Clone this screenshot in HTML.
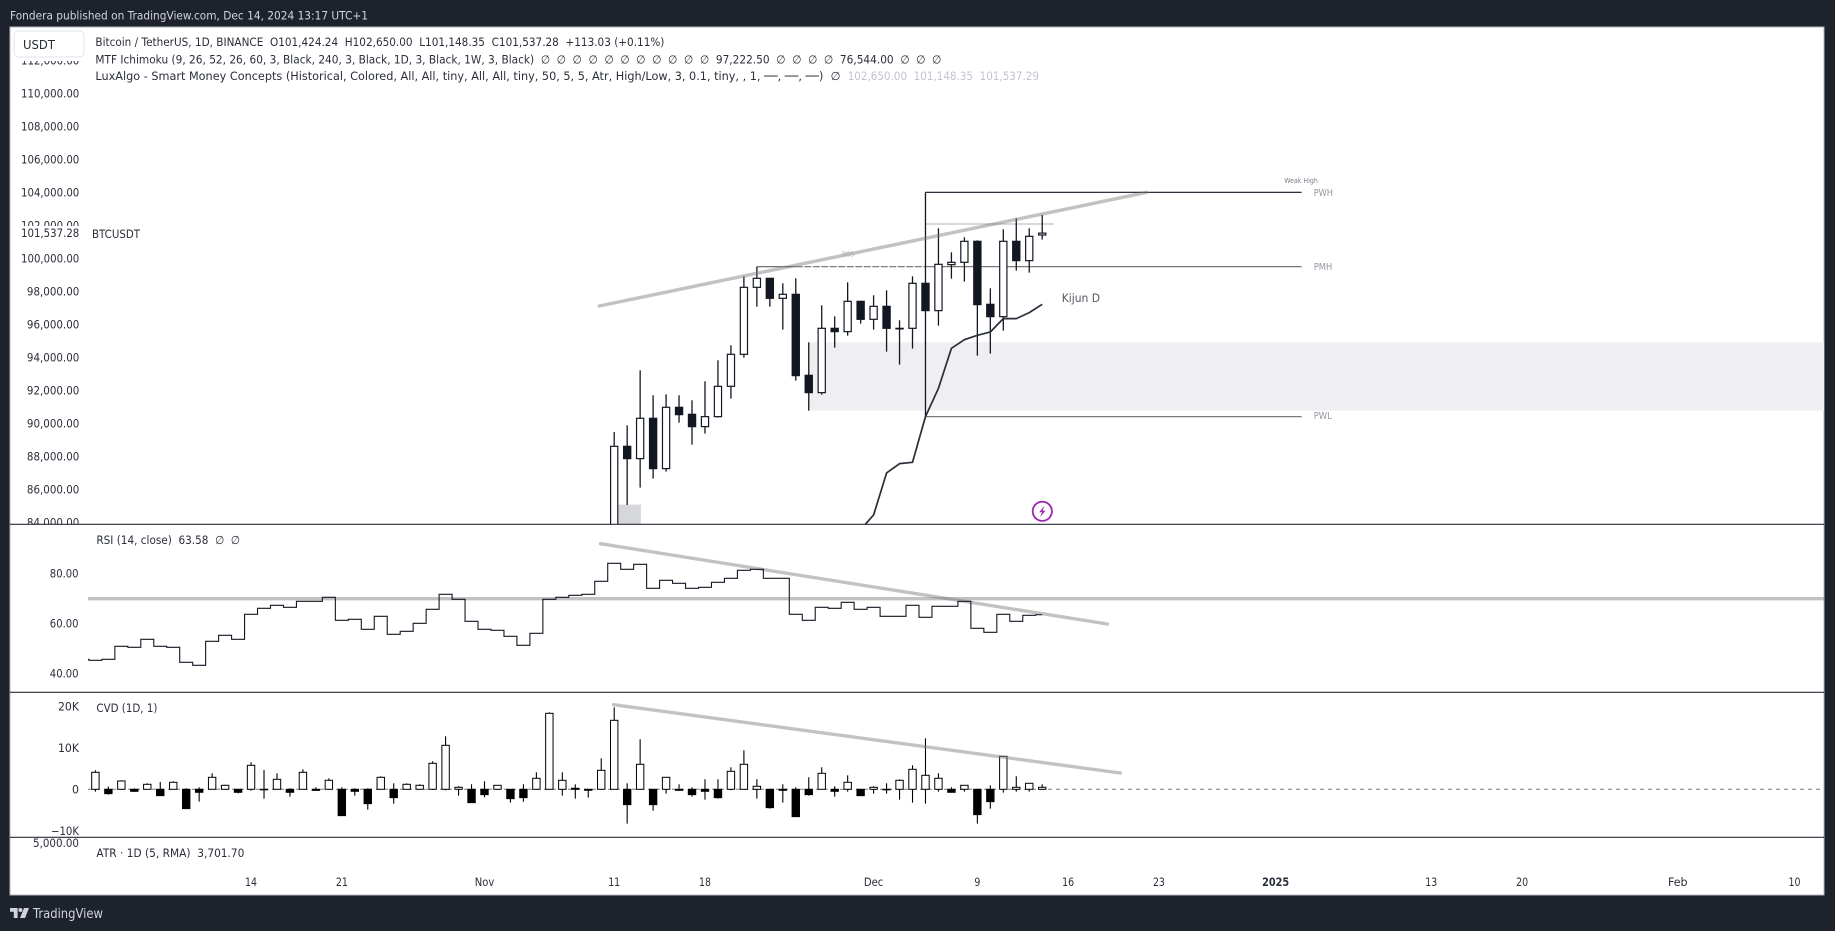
<!DOCTYPE html>
<html lang="en">
<head>
<meta charset="utf-8">
<title>BTCUSDT chart</title>
<style>
html,body{margin:0;padding:0;background:#1e222d;width:1835px;height:931px;overflow:hidden}
svg{display:block}
text{font-family:"DejaVu Sans","Liberation Sans",sans-serif;white-space:pre}
.lg{font-size:11.5px;fill:#2a2e39}
.ax{font-size:11.5px;fill:#2a2e39}
</style>
</head>
<body>
<svg id="chart" xmlns="http://www.w3.org/2000/svg" width="1835" height="931" viewBox="0 0 1835 931">
  <defs>
    <clipPath id="clip-main"><rect x="88" y="27" width="1736" height="497"/></clipPath>
    <clipPath id="clip-rsi"><rect x="88" y="525" width="1736" height="167"/></clipPath>
    <clipPath id="clip-cvd"><rect x="88" y="693" width="1736" height="144"/></clipPath>
    <clipPath id="clip-price-labels"><rect x="12" y="61" width="76" height="463"/></clipPath>
    <clipPath id="clip-atr-label"><rect x="12" y="838" width="76" height="20"/></clipPath>
  </defs>
  <rect x="0" y="0" width="1835" height="931" fill="#1e222d"/>
  <text x="10" y="19.5" font-size="11.5" fill="#d1d4dc" textLength="358" lengthAdjust="spacingAndGlyphs">Fondera published on TradingView.com, Dec 14, 2024 13:17 UTC+1</text>
  <rect x="10" y="27" width="1814" height="868" fill="#ffffff" stroke="#b2b5be" stroke-width="1"/>

  <g id="main-layer" clip-path="url(#clip-main)"></g>
  <g id="price-labels" clip-path="url(#clip-price-labels)"></g>
  <rect x="12" y="226" width="74" height="14" fill="#ffffff"/>
  <text class="ax" x="79.3" y="237" text-anchor="end" fill="#131722" textLength="58.3" lengthAdjust="spacingAndGlyphs">101,537.28</text>
  <text class="ax" x="92" y="238" textLength="48" lengthAdjust="spacingAndGlyphs">BTCUSDT</text>

  <g id="rsi-layer" clip-path="url(#clip-rsi)"></g>
  <g id="rsi-labels"></g>
  <g id="cvd-layer" clip-path="url(#clip-cvd)"></g>
  <g id="cvd-labels"></g>
  <g id="time-labels"></g>

  <line x1="10" x2="1824" y1="524.3" y2="524.3" stroke="#2a2e39" stroke-width="1.2"/>
  <line x1="10" x2="1824" y1="692.3" y2="692.3" stroke="#2a2e39" stroke-width="1.2"/>
  <line x1="10" x2="1824" y1="837.3" y2="837.3" stroke="#2a2e39" stroke-width="1.2"/>

  <rect x="14" y="31" width="70" height="26" rx="4" fill="#ffffff" stroke="#e0e3eb"/>
  <text x="23" y="49" font-size="12.5" fill="#2a2e39" textLength="32" lengthAdjust="spacingAndGlyphs">USDT</text>

  <text class="lg" x="95.4" y="46" textLength="569" lengthAdjust="spacingAndGlyphs">Bitcoin / TetherUS, 1D, BINANCE  O101,424.24  H102,650.00  L101,148.35  C101,537.28  +113.03 (+0.11%)</text>
  <text class="lg" x="95.4" y="63.3" textLength="846" lengthAdjust="spacingAndGlyphs">MTF Ichimoku (9, 26, 52, 26, 60, 3, Black, 240, 3, Black, 1D, 3, Black, 1W, 3, Black)  ∅  ∅  ∅  ∅  ∅  ∅  ∅  ∅  ∅  ∅  ∅  97,222.50  ∅  ∅  ∅  ∅  76,544.00  ∅  ∅  ∅</text>
  <text class="lg" x="95.4" y="80" textLength="745" lengthAdjust="spacingAndGlyphs">LuxAlgo - Smart Money Concepts (Historical, Colored, All, All, tiny, All, All, tiny, 50, 5, 5, Atr, High/Low, 3, 0.1, tiny, , 1, ──, ──, ──)  ∅</text>
  <text class="lg" x="847.7" y="80" style="fill:#c1c4cd" textLength="191.3" lengthAdjust="spacingAndGlyphs">102,650.00  101,148.35  101,537.29</text>
  <text class="lg" x="96.4" y="544" textLength="143.6" lengthAdjust="spacingAndGlyphs">RSI (14, close)  63.58  ∅  ∅</text>
  <text class="lg" x="96.4" y="712" textLength="61" lengthAdjust="spacingAndGlyphs">CVD (1D, 1)</text>
  <text class="lg" x="96.4" y="857" textLength="148" lengthAdjust="spacingAndGlyphs">ATR · 1D (5, RMA)  3,701.70</text>
  <text class="ax" x="79" y="847" text-anchor="end" clip-path="url(#clip-atr-label)" textLength="46" lengthAdjust="spacingAndGlyphs">5,000.00</text>

  <g>
    <circle cx="1042.3" cy="511.3" r="9.6" fill="#ffffff" stroke="#9c27b0" stroke-width="1.8"/>
    <path d="M1044.6 505.6l-5.4 6.6h2.9l-2 5 5.4-6.6h-2.9z" fill="#9c27b0"/>
  </g>

  <g>
    <path d="M10 908h7.6v10h-3.8v-6.2H10z" fill="#d1d4dc"/>
    <circle cx="20.4" cy="910" r="2" fill="#d1d4dc"/>
    <path d="M24 908h5l-4 10h-5z" fill="#d1d4dc"/>
    <text x="33" y="918" font-size="13" fill="#d1d4dc" textLength="70" lengthAdjust="spacingAndGlyphs">TradingView</text>
  </g>
</svg>

<script>
// ---- Price pane data ----
const priceTicks = [112000,110000,108000,106000,104000,102000,100000,98000,96000,94000,92000,90000,88000,86000,84000];
const candleFirstDay = 40;
const candleOpen  = [80370,88618,87871,90315,87265,90982,90557,89810,90416,92254,94193,98254,98799,97587,97829,92921,91870,95769,95567,97405,96314,97102,95769,95769,98496,96840,99627,99769,101041,97223,96476,101041,99870,101424];
const candleHigh  = [89487,89891,93224,91709,91769,91709,91406,92557,93830,94739,98920,99506,98799,98496,98799,94921,97163,96496,98557,97405,97769,98072,96254,98920,104010,101829,100375,101284,101102,98193,101768,102435,101829,102650];
const candleLow   = [80216,85063,86113,86659,87083,90052,88719,89386,90355,91507,93991,97082,97082,95688,92598,90780,91749,94597,95325,96052,95688,94355,93567,94537,90416,95931,98779,98597,94113,94234,95628,99264,99143,101148];
const candleClose = [88618,87871,90315,87265,90982,90537,89810,90416,92254,94193,98254,98799,97587,97829,92901,91870,95769,95567,97405,96314,97102,95769,95749,98496,96840,99647,99769,101041,97203,96476,101041,99870,101344,101537];
const kijunFirstDay = 59;
const kijunValues = [83568,84457,87002,87568,87649,90416,92133,94557,95082,95345,95547,96355,96355,96718,97222];
const mainTrendDays = [38.85,81.06];
const mainTrendPrices = [97121,104012];
const pwhPrice = 104010;
const pmhPrice = 99506;
const pwlPrice = 90416;
const weakHighLevel = 102092;
const levelStartDay = 64;
const levelEndDay = 93;
const zoneTop = 94921;
const zoneBottom = 90780;
const zoneStartDay = 55;
const obTop = 85063;
const obDays = [40.35,42.04];
const bosStartDay = 51;
const bosSolidEndDay = 54;

// ---- RSI data (first entry is the day before the left edge) ----
const rsiTicks = [80,60,40];
const rsiValues = [45.76,45.36,45.76,50.96,50.56,53.76,50.96,50.56,44.56,43.36,52.96,55.36,53.76,63.76,66.16,67.36,66.56,68.96,68.96,70.56,61.36,61.76,57.76,62.96,55.76,56.96,60.16,65.76,71.76,69.76,60.96,57.76,57.36,54.96,51.36,56.16,69.76,70.56,71.36,71.76,76.96,84.15,81.75,83.75,74.15,77.35,76.15,74.15,74.55,76.55,78.15,81.35,81.75,78.15,78.15,63.76,61.36,66.56,66.16,68.56,65.76,66.56,62.96,62.96,67.35,62.56,66.95,66.95,68.95,58.15,56.55,63.75,60.95,63.35,63.58];
const rsiLevel = 70;
const rsiTrendDays = [38.94,78.03];
const rsiTrendValues = [92,59.88];

// ---- CVD data ----
const cvdTicks = [20000,10000,0,-10000];
const cvdTickLabels = ["20K","10K","0","\u221210K"];
const cvdClose = [4095,-1044,2008,-482,1205,-1526,1686,-4657,-723,2891,964,-723,5782,0,2409,-723,4095,-260,2168,-6344,-482,-3453,2891,-2008,1205,964,6263,10600,482,-3212,-1285,964,-2248,-2008,2650,18308,2168,241,-241,4577,16622,-3694,6023,-3694,2891,-241,-1285,-482,-2008,4336,6023,723,-4417,-241,-6585,-1285,3854,-482,1686,-1526,482,0,2168,4818,3373,2650,-723,964,-6103,-2971,7950,482,1445,482];
const cvdHigh = [4577,642,2168,241,1445,1767,1927,241,482,3854,1124,80,6504,4657,3854,241,4818,482,2650,482,241,241,3132,1445,1445,1205,6745,12768,723,1205,1927,964,0,1205,4095,18549,4095,1205,0,7468,19754,1445,12045,0,2891,1205,482,2409,2409,5300,9395,2409,0,1205,482,2891,5300,723,3373,0,723,1445,2409,5782,12286,3854,482,964,0,964,7950,3132,1445,1205];
const cvdLow = [-562,-1285,0,-642,0,-1526,0,-4657,-2971,0,0,-964,-321,-2248,0,-1767,0,-300,0,-6344,-1526,-4898,0,-3453,0,0,-161,-241,-1526,-3212,-1927,0,-3212,-2971,0,0,-1526,-2248,-2008,0,0,-8271,0,-5139,-1044,-402,-1767,-2489,-2248,-241,0,-2248,-4657,-3212,-6585,-1526,0,-1767,-562,-1526,-1044,-1044,-2489,-3212,-3453,-562,-723,-562,-8271,-4657,-803,-562,-562,0];
const cvdTrendDays = [39.95,79.02];
const cvdTrendValues = [20386,3928];

// ---- Time axis data ----
const timeTickDays = [12,19,30,40,47,60,68,75,82,91,103,110,122,131];
const timeTickLabels = ["14","21","Nov","11","18","Dec","9","16","23","2025","13","20","Feb","10"];

// ---- Axis functions ----
function xOf(day){ return 95.4 + 12.97 * day; }
function yPrice(p){ return 192.5 + (104000 - p) * 0.0165; }
function yRsi(v){ return 623.7 - (v - 60) * 2.5; }
function yCvd(v){ return 789.3 - v * 0.00415; }

const NS = "http://www.w3.org/2000/svg";
function make(tag, props, parent){
  const node = document.createElementNS(NS, tag);
  for (const k in props) node.setAttribute(k, props[k]);
  parent.appendChild(node);
  return node;
}
const mainLayer = document.getElementById("main-layer");
const rsiLayer = document.getElementById("rsi-layer");
const cvdLayer = document.getElementById("cvd-layer");
const priceLabels = document.getElementById("price-labels");
const rsiLabels = document.getElementById("rsi-labels");
const cvdLabels = document.getElementById("cvd-labels");
const timeLabels = document.getElementById("time-labels");
const DARK = "#131722";
const RIGHT = 1824;
const TREND = {stroke:"#787878","stroke-opacity":"0.45","stroke-width":"3.4","stroke-linecap":"round"};

// ---- Price pane ----
priceTicks.forEach(function(p){
  const t = make("text",{class:"ax",x:79.3,y:yPrice(p)+4,"text-anchor":"end",textLength:(p>=100000?58.3:52.4),lengthAdjust:"spacingAndGlyphs"},priceLabels);
  
  
  t.textContent = p.toLocaleString("en-US",{minimumFractionDigits:2,maximumFractionDigits:2});
});

const zone = make("rect",{x:xOf(zoneStartDay),y:yPrice(zoneTop),width:RIGHT-xOf(zoneStartDay),height:yPrice(zoneBottom)-yPrice(zoneTop),fill:"#efeff1"},mainLayer);



const orderBlock = make("rect",{x:xOf(obDays[0]),y:yPrice(obTop),width:xOf(obDays[1])-xOf(obDays[0]),height:530-yPrice(obTop),fill:"#d6d7db",stroke:"#dcdde1","stroke-width":"0.8"},mainLayer);



const weakHigh = make("line",{x1:xOf(levelStartDay),x2:xOf(73.9),y1:yPrice(weakHighLevel),y2:yPrice(weakHighLevel),stroke:"#d1d4dc","stroke-width":"1.8"},mainLayer);



const bosSolid = make("line",{x1:xOf(bosStartDay),x2:xOf(bosSolidEndDay),y1:yPrice(pmhPrice),y2:yPrice(pmhPrice),stroke:"#5d6068","stroke-width":"1.1"},mainLayer);



const bosLine = make("line",{x1:xOf(bosSolidEndDay),x2:xOf(levelStartDay),y1:yPrice(pmhPrice),y2:yPrice(pmhPrice),stroke:"#6f7178","stroke-width":"1.1","stroke-dasharray":"7 1.5"},mainLayer);



const pwhLine = make("line",{x1:xOf(levelStartDay),x2:xOf(levelEndDay),y1:yPrice(pwhPrice),y2:yPrice(pwhPrice),stroke:DARK,"stroke-width":"1.2"},mainLayer);



const pmhLine = make("line",{x1:xOf(levelStartDay),x2:xOf(levelEndDay),y1:yPrice(pmhPrice),y2:yPrice(pmhPrice),stroke:"#787878","stroke-width":"1.2"},mainLayer);



const pwlLine = make("line",{x1:xOf(levelStartDay),x2:xOf(levelEndDay),y1:yPrice(pwlPrice),y2:yPrice(pwlPrice),stroke:"#787878","stroke-width":"1.2"},mainLayer);



candleClose.forEach(function(c,i){
  const cx = xOf(candleFirstDay+i);
  const o = candleOpen[i];
  const up = c >= o;
  const g = make("g",{},mainLayer);
  
  
  make("line",{x1:cx,x2:cx,y1:yPrice(candleHigh[i]),y2:yPrice(candleLow[i]),stroke:DARK,"stroke-width":"1.3"},g);
  const top = yPrice(Math.max(o,c));
  const h = Math.max(Math.abs(yPrice(o)-yPrice(c)),0.6);
  make("rect",{x:cx-3.6,y:top,width:7.2,height:h,fill:up?"#ffffff":DARK,stroke:DARK,"stroke-width":"1.2"},g);
});

const kijunPts = kijunValues.map(function(v,i){ return xOf(kijunFirstDay+i)+","+yPrice(v); }).join(" ");
const kijun = make("polyline",{points:kijunPts,fill:"none",stroke:"#2a2e39","stroke-width":"1.7","stroke-linejoin":"round"},mainLayer);



const mainTrend = make("line",Object.assign({x1:xOf(mainTrendDays[0]),x2:xOf(mainTrendDays[1]),y1:yPrice(mainTrendPrices[0]),y2:yPrice(mainTrendPrices[1])},TREND),mainLayer);



function mainText(str,x,y,size,fill,len,anchor){
  const t = make("text",{x:x,y:y,"font-size":size,fill:fill,textLength:len,lengthAdjust:"spacingAndGlyphs","text-anchor":anchor||"start"},mainLayer);
  t.textContent = str;
  return t;
}
const kijunLabel = mainText("Kijun D",1061.7,302,11.5,"#555860",38.3);


const pwhLabel = mainText("PWH",1313.7,yPrice(pwhPrice)+3.5,9.5,"#9598a1",19.3);


const pmhLabel = mainText("PMH",1313.7,yPrice(pmhPrice)+3.5,9.5,"#9598a1",18.6);


const pwlLabel = mainText("PWL",1313.7,yPrice(pwlPrice+60)+3.5,9.5,"#9598a1",18.2);


const weakLabel = mainText("Weak High",1284.3,183,6.8,"#787b86",33.5);


const bosLabel = mainText("BOS",842,256.5,6.8,"#a8abb4",12);



// ---- RSI pane ----
rsiTicks.forEach(function(v){
  const t = make("text",{class:"ax",x:78.6,y:yRsi(v)+4,"text-anchor":"end",textLength:28.8,lengthAdjust:"spacingAndGlyphs"},rsiLabels);
  
  
  t.textContent = v.toFixed(2);
});
const rsiLevelLine = make("line",{x1:88,x2:RIGHT,y1:yRsi(rsiLevel),y2:yRsi(rsiLevel),stroke:"#787878","stroke-opacity":"0.45","stroke-width":"3.4"},rsiLayer);



const rsiTrend = make("line",Object.assign({x1:xOf(rsiTrendDays[0]),x2:xOf(rsiTrendDays[1]),y1:yRsi(rsiTrendValues[0]),y2:yRsi(rsiTrendValues[1])},TREND),rsiLayer);



let rsiD = "";
rsiValues.forEach(function(v,i){
  const day = i - 1;
  const cur = yRsi(v);
  if (i === 0) {
    rsiD += "M" + xOf(day) + " " + cur;
  } else {
    const midX = (xOf(day-1)+xOf(day))/2;
    rsiD += " L" + midX + " " + yRsi(rsiValues[i-1]) + " L" + midX + " " + cur;
  }
  if (i === rsiValues.length-1) rsiD += " L" + xOf(day) + " " + cur;
});
const rsiLine = make("path",{d:rsiD,fill:"none",stroke:DARK,"stroke-width":"1.1"},rsiLayer);



// ---- CVD pane ----
cvdTicks.forEach(function(v,i){
  const t = make("text",{class:"ax",x:79,y:yCvd(v)+4,"text-anchor":"end"},cvdLabels);
  
  
  t.setAttribute('textLength', cvdTickLabels[i].length * 7);
  t.setAttribute('lengthAdjust', 'spacingAndGlyphs');
  t.textContent = cvdTickLabels[i];
});
const zeroLine = make("line",{x1:88,x2:RIGHT,y1:yCvd(0),y2:yCvd(0),stroke:"#787b86","stroke-width":"1","stroke-dasharray":"4 4"},cvdLayer);



cvdClose.forEach(function(c,day){
  const cx = xOf(day);
  const up = c >= 0;
  const g = make("g",{},cvdLayer);
  
  
  make("line",{x1:cx,x2:cx,y1:yCvd(cvdHigh[day]),y2:yCvd(cvdLow[day]),stroke:"#000000","stroke-width":"1.1"},g);
  const top = yCvd(Math.max(0,c));
  const h = Math.max(Math.abs(yCvd(c)-yCvd(0)),0.5);
  make("rect",{x:cx-3.7,y:top,width:7.4,height:h,fill:up?"#ffffff":"#000000",stroke:"#000000","stroke-width":"1"},g);
});

const cvdTrend = make("line",Object.assign({x1:xOf(cvdTrendDays[0]),x2:xOf(cvdTrendDays[1]),y1:yCvd(cvdTrendValues[0]),y2:yCvd(cvdTrendValues[1])},TREND),cvdLayer);



// ---- Time axis ----
timeTickDays.forEach(function(d,i){
  const label = timeTickLabels[i];
  const t = make("text",{class:"ax",x:xOf(d),y:886,"text-anchor":"middle",textLength:(label==="2025"?27:label.length===3?19.5:label.length===1?6:12),lengthAdjust:"spacingAndGlyphs"},timeLabels);
  
  
  if (label === "2025") t.setAttribute('font-weight', 'bold');
  t.textContent = label;
});
</script>
</body>
</html>
